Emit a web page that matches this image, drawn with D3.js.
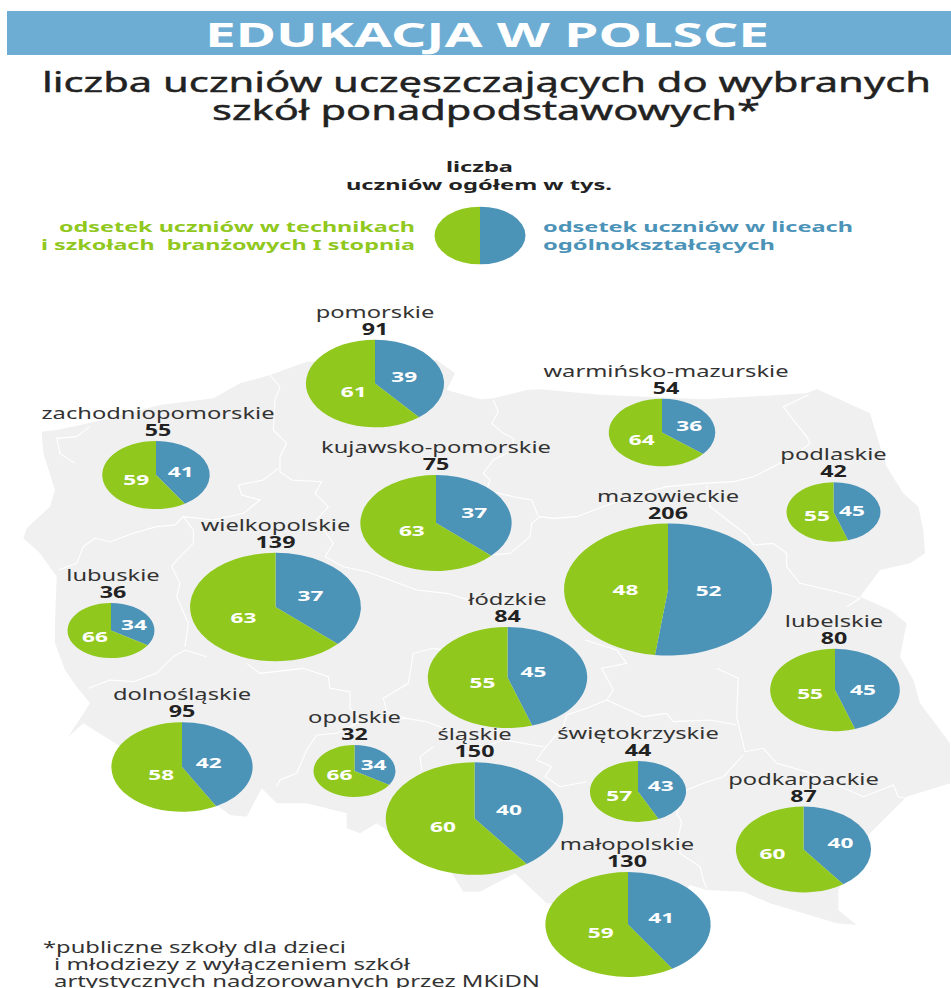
<!DOCTYPE html>
<html>
<head>
<meta charset="utf-8">
<script src="https://cdn.jsdelivr.net/npm/d3@7"></script>
<style>
  html, body { margin: 0; padding: 0; background: #fff; overflow: hidden; }
  text { font-family: "Noto Sans", "Open Sans", sans-serif; white-space: pre; }
</style>
</head>
<body>
<script>
// values
var regions = ["pomorskie", "warmińsko-mazurskie", "zachodniopomorskie", "kujawsko-pomorskie",
  "wielkopolskie", "lubuskie", "mazowieckie", "podlaskie", "łódzkie", "lubelskie",
  "dolnośląskie", "opolskie", "śląskie", "świętokrzyskie", "podkarpackie", "małopolskie"];
var totals =   [91, 54, 55, 75, 139, 36, 206, 42, 84, 80, 95, 32, 150, 44, 87, 130];
// the circles of kujawsko-pomorskie and lodzkie are drawn bigger than their totals say
var drawnAs =  [91, 54, 55, 109, 139, 36, 206, 42, 121, 80, 95, 32, 150, 44, 87, 130];
var licea =    [39, 36, 41, 37, 37, 34, 52, 45, 45, 45, 42, 34, 40, 43, 40, 41];
var technika = [61, 64, 59, 63, 63, 66, 48, 55, 55, 55, 58, 66, 60, 57, 60, 59];

// where each voivodeship sits on the map
var mapX = [375, 662, 156, 436, 275.5, 111, 668, 833.5, 507.5, 835, 182, 354.5, 474.5, 638, 803.5, 628];
var mapY = [383.5, 432.5, 475, 523, 607, 630.5, 589.5, 512, 677.5, 690, 767, 771, 818.5, 791.5, 849.5, 924.5];
var labelShift = [0, 4, 2, 0, 0, 2, 0, 0, 0, -1, 0, 0, 0, 0, 0, -1];

// hand placed numbers: small moves away from the slice centroid
var liceaNudgeX =    [2, 7, 3, 9, 2, 7, -3, -1, -7, 1, -2, 4, -1, 3, 10, 0];
var liceaNudgeY =    [0, 0, 1, -2, -2, 0, 0, 1, -2, 3, 1, -1, -1, -3, -1, 0];
var technikaNudgeX = [6, 0, 2, 5, 1, 0, 1, 3, 8, 2, 8, 0, 4, 1, -4, 6];
var technikaNudgeY = [2, 1, 1, 0, 2, 1, 2, 2, 2, 1, 3, -1, 1, 2, -1, 2];

var width = 951, height = 988;
var green = "#90c81e", blue = "#4c93b8", ink = "#222";
var squash = 66 / 104; // the whole picture is stretched sideways

var svg = d3.select("body").append("svg")
  .attr("width", width)
  .attr("height", height)
  .style("display", "block");

// base map, traced in crop pixels (3x) and moved back to page pixels
function crop(ox, oy, pts) {
  return pts.map(function(p) { return [ox + p[0] / 3, oy + p[1] / 3]; });
}
var outline = [].concat(
  crop(0, 290, [[125,425],[170,420],[285,395],[480,345],[640,325],[720,280],[810,255],[920,215],[1310,210],[1365,250],[1340,300],[1440,328]]),
  crop(470, 290, [[70,325],[170,300],[210,298],[400,315],[700,328],[1010,310],[1040,297],[1080,315],[1200,370],[1215,420],[1250,530],[1300,610],[1345,650],[1360,720],[1365,790],[1320,820],[1230,840],[1170,920],[1260,960],[1310,1000]]),
  crop(470, 640, [[1290,50],[1330,120],[1350,190],[1440,310],[1440,430],[1310,470],[1200,580],[1105,750],[1105,810],[1160,855],[1100,850],[900,790],[820,755],[710,750],[660,735],[600,800],[230,790],[135,700]]),
  crop(0, 640, [[1440,755],[1390,755],[1355,700],[1130,550],[1080,580],[1040,565],[1040,520],[920,490],[830,490],[785,445],[740,530],[690,525],[650,495],[330,300],[250,250],[205,290],[270,190],[230,140],[195,90],[165,10]]),
  crop(0, 290, [[165,1000],[170,860],[120,790],[70,745],[80,715],[150,650],[165,600],[130,490]])
);
var borders = [
  crop(0, 290, [[270,410],[230,440],[170,445],[180,490],[225,520]]),
  crop(0, 290, [[810,255],[840,290],[825,330],[820,420],[860,460],[840,500],[840,545],[875,570],[965,575],[945,610],[985,650],[950,690],[1000,760],[975,800],[1030,830],[1100,845],[1170,870],[1250,900],[1340,910],[1440,940]]),
  crop(0, 290, [[835,535],[790,570],[715,585],[725,615],[780,630],[730,670],[640,690],[550,680],[525,705],[470,710],[400,730],[330,755],[285,745],[250,770],[230,820],[175,840]]),
  crop(0, 290, [[550,680],[580,720],[580,760],[530,810],[515,830],[540,880],[530,920],[565,1000],[555,1070]]),
  crop(0, 640, [[265,145],[330,120],[400,125],[470,100],[520,50],[555,30],[620,50]]),
  crop(0, 640, [[740,70],[780,100],[910,85],[985,110],[990,145],[1050,155],[1050,205],[1090,240],[1220,235],[1280,245],[1330,265],[1440,290]]),
  crop(0, 640, [[1090,240],[1010,280],[950,285],[920,330],[890,400],[840,420],[830,440]]),
  crop(0, 640, [[1220,235],[1160,215],[1150,175],[1225,130],[1240,40],[1300,25],[1400,40]]),
  crop(0, 640, [[1300,320],[1260,350],[1265,390]]),
  crop(470, 290, [[60,795],[120,790],[180,740],[185,700],[210,680],[250,685],[320,680],[400,650],[480,620],[590,590],[700,580],[790,575],[850,560],[930,520],[960,510],[1020,460],[1010,440],[970,390],[940,350],[1015,315]]),
  crop(470, 290, [[70,330],[85,365],[65,400],[100,430],[130,445],[130,480],[70,510],[40,550],[60,570],[50,600],[130,620],[185,630],[205,680]]),
  crop(470, 290, [[710,585],[720,650],[830,735],[850,765],[910,760],[950,790],[950,830],[990,880],[1100,905],[1170,925],[1130,950]]),
  crop(470, 640, [[345,0],[440,30],[470,70],[395,85],[430,150],[410,180],[520,230],[590,220],[610,245],[720,240],[800,255]]),
  crop(470, 640, [[740,85],[805,115],[800,230],[825,335],[880,325],[920,370],[1010,395],[1180,470],[1270,435],[1285,470],[1310,475]]),
  crop(470, 640, [[410,180],[350,205],[290,225],[280,260],[220,330],[200,360],[245,380],[225,410],[270,440],[350,425]]),
  crop(470, 640, [[820,345],[760,410],[700,430],[650,450],[620,520],[635,545],[625,590],[630,640],[690,680],[700,720],[710,745]]),
  crop(470, 640, [[0,335],[100,300],[220,320]])
];

var line = d3.line();
svg.append("path")
  .attr("d", line(outline) + "Z")
  .attr("fill", "#f0f0f0");
svg.append("g").selectAll("path")
  .data(borders)
  .enter().append("path")
    .attr("d", line)
    .attr("fill", "none")
    .attr("stroke", "#fff")
    .attr("stroke-width", 1.1);

// header
svg.append("rect")
  .attr("x", 7).attr("y", 11)
  .attr("width", width - 7).attr("height", 44)
  .attr("fill", "#6eadd3");

function fitted(str, x, y, size, len, weight, color) {
  return svg.append("text")
    .attr("x", x).attr("y", y)
    .attr("font-size", size)
    .attr("font-weight", weight)
    .attr("fill", color)
    .attr("textLength", len)
    .attr("lengthAdjust", "spacingAndGlyphs")
    .text(str);
}

fitted("EDUKACJA W POLSCE", 205, 47, 33.5, 564, 700, "#fff");
fitted("liczba uczniów uczęszczających do wybranych", 42, 92, 27, 889, 400, ink)
  .attr("stroke", ink).attr("stroke-width", 0.4);
fitted("szkół ponadpodstawowych*", 212, 120, 27, 548, 400, ink)
  .attr("stroke", ink).attr("stroke-width", 0.4);

// legend
fitted("liczba", 446, 172, 14.5, 67, 700, ink);
fitted("uczniów ogółem w tys.", 346, 190, 14.5, 266, 700, ink);
fitted("odsetek uczniów w technikach", 59, 232, 14.5, 356, 700, green);
fitted("i szkołach  branżowych I stopnia", 41, 250, 14.5, 374, 700, green);
fitted("odsetek uczniów w liceach", 543, 232, 14.5, 310, 700, blue);
fitted("ogólnokształcących", 543, 250, 14.5, 232, 700, blue);

// footnote
fitted("*publiczne szkoły dla dzieci", 43, 953, 15.5, 303, 400, "#333");
fitted("i młodziezy z wyłączeniem szkół", 54, 970, 15.5, 356, 400, "#333");
fitted("artystycznych nadzorowanych przez MKiDN", 54, 987, 15.5, 486, 400, "#333");

// pies
var radius = d3.scaleSqrt().domain([0, 206]).range([0, 104]);
var pie = d3.pie().sort(null).value(function(d) { return d.value; });
var arc = d3.arc().innerRadius(0);

var sliceColor = d3.scaleOrdinal().domain(["licea", "technika"]).range([blue, green]);

function slices(i) {
  return pie([
    { key: "licea", value: licea[i], dx: liceaNudgeX[i], dy: liceaNudgeY[i] },
    { key: "technika", value: technika[i], dx: technikaNudgeX[i], dy: technikaNudgeY[i] }
  ]);
}

// the legend circle, half and half
var legendPie = svg.append("g")
  .attr("transform", "translate(480,235.5) scale(1," + squash + ")");
legendPie.selectAll("path")
  .data(pie([{ key: "licea", value: 50 }, { key: "technika", value: 50 }]))
  .enter().append("path")
    .attr("d", function(d) { return arc.outerRadius(45.5)(d); })
    .attr("fill", function(d) { return sliceColor(d.data.key); });

var groups = svg.append("g").selectAll("g")
  .data(regions)
  .enter().append("g")
    .attr("transform", function(d, i) { return "translate(" + mapX[i] + "," + mapY[i] + ")"; });

groups.each(function(name, i) {
  var g = d3.select(this);
  var r = radius(drawnAs[i]);
  var top = -r * squash;

  g.append("g")
    .attr("transform", "scale(1," + squash + ")")
    .selectAll("path")
    .data(slices(i))
    .enter().append("path")
      .attr("d", function(d) { return arc.outerRadius(r)(d); })
      .attr("fill", function(d) { return sliceColor(d.data.key); });

  // numbers inside the slices
  var labelArc = d3.arc().innerRadius(r * 0.42).outerRadius(r * 0.42);
  g.selectAll("text.value")
    .data(slices(i))
    .enter().append("text")
      .attr("class", "value")
      .attr("transform", function(d) {
        var c = labelArc.centroid(d);
        return "translate(" + (c[0] + d.data.dx) + "," + (c[1] * squash + 5 + d.data.dy) + ") scale(1.62,1)";
      })
      .attr("text-anchor", "middle")
      .attr("font-size", 14)
      .attr("font-weight", 700)
      .attr("fill", "#fff")
      .text(function(d) { return d.value; });

  g.append("text")
    .attr("transform", "translate(" + labelShift[i] + "," + (top - 5) + ") scale(1.5,1)")
    .attr("text-anchor", "middle")
    .attr("font-size", 15.5)
    .attr("font-weight", 700)
    .attr("fill", ink)
    .text(totals[i]);

  g.append("text")
    .attr("transform", "translate(" + labelShift[i] + "," + (top - 22) + ") scale(1.53,1)")
    .attr("text-anchor", "middle")
    .attr("font-size", 15.5)
    .attr("fill", "#333")
    .text(name);
});
</script>
</body>
</html>
